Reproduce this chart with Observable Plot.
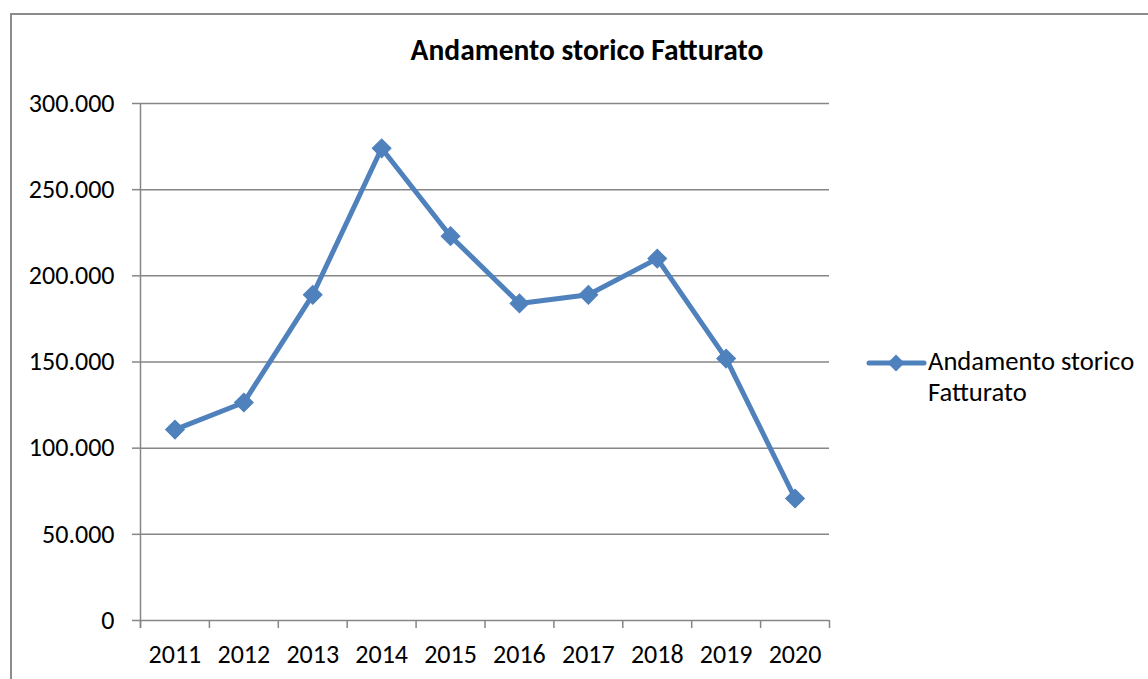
<!DOCTYPE html>
<html><head><meta charset="utf-8">
<script src="https://cdn.jsdelivr.net/npm/d3@7"></script>
<script src="https://cdn.jsdelivr.net/npm/@observablehq/plot@0.6"></script>
<style>
html,body{margin:0;padding:0;background:#fff;overflow:hidden;}
body{width:1148px;height:679px;position:relative;font-family:Carlito,Lato,"Noto Sans",sans-serif;}
#frame{position:absolute;left:10px;top:13px;width:1200px;height:700px;border:2px solid #8c8c8c;box-sizing:border-box;}
#chart{position:absolute;left:0;top:0;}
#title{position:absolute;left:0;width:1174px;top:33px;text-align:center;font-weight:bold;font-size:29.5px;line-height:1.2;color:#000;}
#legend{position:absolute;left:866px;top:346px;font-size:26.6px;color:#000;line-height:31px;}
#legend svg{position:absolute;left:0;top:0;}
#legend .t{position:absolute;left:62px;top:0;white-space:nowrap;}
</style></head>
<body>
<div id="frame"></div>
<div id="chart"></div>
<div id="title"></div>
<div id="legend"></div>
<script>
const title = "Andamento storico Fatturato";
const seriesName = ["Andamento storico", "Fatturato"];
const years = [2011, 2012, 2013, 2014, 2015, 2016, 2017, 2018, 2019, 2020];
const values = [110800, 126500, 189000, 274000, 223000, 184000, 189000, 210000, 152000, 70800];
const yTicks = [0, 50000, 100000, 150000, 200000, 250000, 300000];
const color = "#4F81BD";
const gridColor = "#868686";

const data = years.map((y, i) => ({year: y, value: values[i]}));
const boundaries = [years[0] - 0.5, ...years.map(y => y + 0.5)];
const itFormat = d3.formatLocale({decimal: ",", thousands: ".", grouping: [3], currency: ["€", ""]}).format(",d");

const plot = Plot.plot({
  width: 1148,
  height: 679,
  marginLeft: 140,
  marginRight: 319,
  marginTop: 103,
  marginBottom: 59,
  style: {fontFamily: "Carlito, Lato, 'Noto Sans', sans-serif", fontSize: "26px", color: "#000", background: "transparent", overflow: "visible"},
  x: {domain: [boundaries[0], boundaries[boundaries.length - 1]]},
  y: {domain: [0, 300000]},
  marks: [
    Plot.gridY(yTicks, {stroke: gridColor, strokeOpacity: 1, strokeWidth: 1.5}),
    Plot.axisY(yTicks, {tickFormat: itFormat, tickSize: 8, tickPadding: 18, stroke: gridColor, strokeWidth: 1.5, fill: "#000", label: null, fontSize: 26}),
    Plot.ruleX([boundaries[0]], {stroke: gridColor, strokeWidth: 1.5, insetBottom: -8}),
    Plot.axisX(boundaries, {tickFormat: () => "", tickSize: 8, stroke: gridColor, strokeWidth: 1.5, label: null}),
    Plot.axisX(years, {tickFormat: d => String(d), tickSize: 0, tickPadding: 24.5, fill: "#000", label: null, fontSize: 26}),
    Plot.line(data, {x: "year", y: "value", stroke: color, strokeWidth: 5}),
    Plot.dot(data, {x: "year", y: "value", symbol: "square", r: 7.5, fill: color, rotate: 45, stroke: color, strokeWidth: 1})
  ]
});
document.getElementById("chart").appendChild(plot);
document.getElementById("title").textContent = title;

const leg = document.getElementById("legend");
const ls = d3.create("svg").attr("width", 62).attr("height", 34);
ls.append("line").attr("x1", 3).attr("x2", 58).attr("y1", 17).attr("y2", 17).attr("stroke", color).attr("stroke-width", 5).attr("stroke-linecap", "round");
ls.append("rect").attr("x", -6).attr("y", -6).attr("width", 12).attr("height", 12).attr("fill", color).attr("transform", "translate(30,17) rotate(45)");
leg.appendChild(ls.node());
const t = document.createElement("div");
t.className = "t";
t.innerHTML = seriesName.map(s => `<div>${s}</div>`).join("");
leg.appendChild(t);
</script>
</body></html>
